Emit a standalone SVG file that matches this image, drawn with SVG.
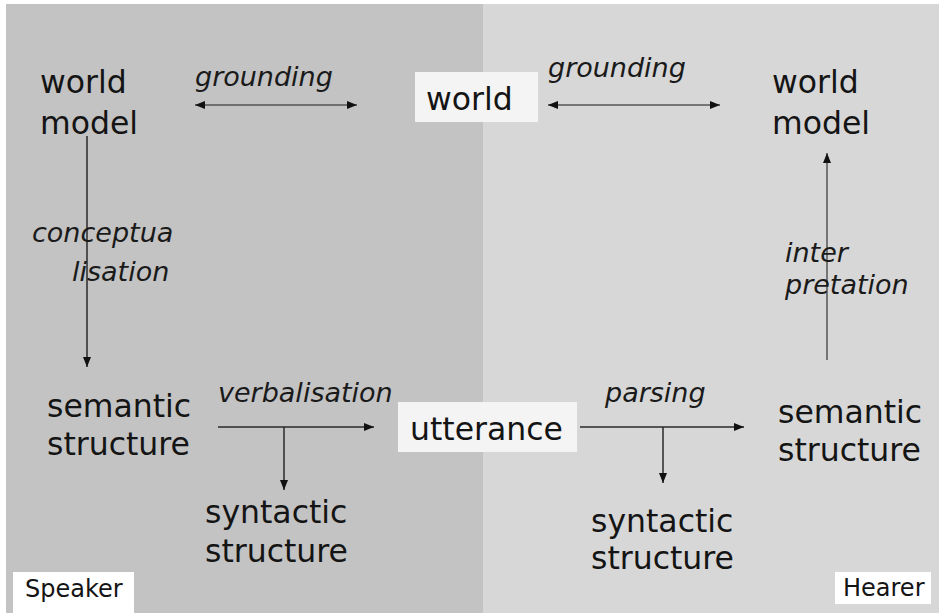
<svg xmlns="http://www.w3.org/2000/svg" width="939" height="613" viewBox="0 0 939 613">
  <style>
    .node { font-family: "DejaVu Sans", Verdana, sans-serif; font-size: 31.5px; fill: #141414; }
    .label { font-family: "DejaVu Sans", Verdana, sans-serif; font-size: 27px; font-style: italic; fill: #1a1a1a; }
    .tag { font-family: "DejaVu Sans", Verdana, sans-serif; font-size: 24px; fill: #141414; }
    .box { fill: #f4f4f4; }
    .edge { stroke: #2a2a2a; stroke-width: 1.5; fill: none; }
    .edge.soft { stroke: #555; }
  </style>
  <defs>
    <marker id="head" viewBox="0 0 10 8" refX="10" refY="4" markerWidth="10" markerHeight="8" markerUnits="userSpaceOnUse" orient="auto-start-reverse">
      <path d="M0,0 L10,4 L0,8 Z" fill="#111"/>
    </marker>
  </defs>

  <!-- background: speaker side and hearer side -->
  <rect x="0" y="0" width="939" height="613" fill="#ffffff"/>
  <rect x="6" y="4" width="477" height="609" fill="#c3c3c3"/>
  <rect x="483" y="4" width="456" height="609" fill="#d7d7d7"/>

  <!-- connectors -->
  <g id="connectors">
    <line class="edge soft" x1="195" y1="105" x2="357" y2="105" marker-start="url(#head)" marker-end="url(#head)"/>
    <line class="edge soft" x1="548" y1="105" x2="720" y2="105" marker-start="url(#head)" marker-end="url(#head)"/>
    <line class="edge" x1="87" y1="136" x2="87" y2="367" marker-end="url(#head)"/>
    <line class="edge" x1="218" y1="427" x2="374" y2="427" marker-end="url(#head)"/>
    <line class="edge" x1="284" y1="427" x2="284" y2="490" marker-end="url(#head)"/>
    <line class="edge" x1="580" y1="427" x2="744" y2="427" marker-end="url(#head)"/>
    <line class="edge" x1="663" y1="427" x2="663" y2="483" marker-end="url(#head)"/>
    <line class="edge soft" x1="827" y1="360" x2="827" y2="153" marker-end="url(#head)"/>
  </g>

  <!-- edge labels -->
  <g id="edge-labels">
    <text class="label" x="195" y="86">grounding</text>
    <text class="label" x="548" y="77">grounding</text>
    <text class="label" x="32" y="242">conceptua</text>
    <text class="label" x="72" y="281">lisation</text>
    <text class="label" x="218" y="402">verbalisation</text>
    <text class="label" x="605" y="402">parsing</text>
    <text class="label" x="785" y="262">inter</text>
    <text class="label" x="785" y="294">pretation</text>
  </g>

  <!-- nodes -->
  <g id="speaker-world-model">
    <text class="node" x="40" y="93">world</text>
    <text class="node" x="40" y="134">model</text>
  </g>
  <g id="world">
    <rect class="box" x="415" y="72" width="123" height="50"/>
    <text class="node" x="426" y="110">world</text>
  </g>
  <g id="hearer-world-model">
    <text class="node" x="772" y="93">world</text>
    <text class="node" x="772" y="134">model</text>
  </g>
  <g id="speaker-semantic-structure">
    <text class="node" x="47" y="417">semantic</text>
    <text class="node" x="47" y="455">structure</text>
  </g>
  <g id="utterance">
    <rect class="box" x="398" y="402" width="179" height="50"/>
    <text class="node" x="410" y="440">utterance</text>
  </g>
  <g id="hearer-semantic-structure">
    <text class="node" x="778" y="423">semantic</text>
    <text class="node" x="778" y="461">structure</text>
  </g>
  <g id="speaker-syntactic-structure">
    <text class="node" x="205" y="523">syntactic</text>
    <text class="node" x="205" y="562">structure</text>
  </g>
  <g id="hearer-syntactic-structure">
    <text class="node" x="591" y="532">syntactic</text>
    <text class="node" x="591" y="569">structure</text>
  </g>

  <!-- side tags -->
  <g id="speaker-tag">
    <rect x="13" y="572" width="121" height="41" fill="#ffffff"/>
    <text class="tag" x="25" y="597">Speaker</text>
  </g>
  <g id="hearer-tag">
    <rect x="835" y="572" width="96" height="32" fill="#ffffff"/>
    <text class="tag" x="843" y="596">Hearer</text>
  </g>
</svg>
